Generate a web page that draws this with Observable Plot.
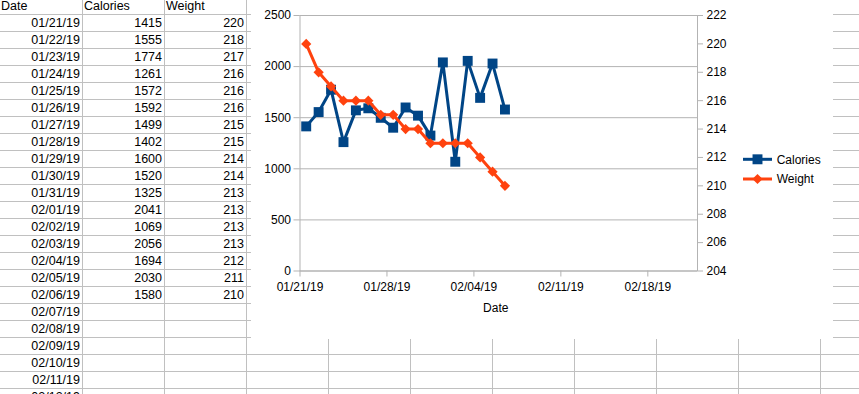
<!DOCTYPE html>
<html><head><meta charset="utf-8">
<script src="https://cdn.jsdelivr.net/npm/d3@7"></script>
<script src="https://cdn.jsdelivr.net/npm/@observablehq/plot@0.6"></script>
<style>
html,body{margin:0;padding:0;background:#fff;overflow:hidden;}
body{width:859px;height:394px;position:relative;font-family:"Liberation Sans",Arial,sans-serif;}
#sheet{position:absolute;left:0;top:0;}
#chart{position:absolute;left:251px;top:0;width:582px;height:339px;background:#fff;}
#chart svg{position:absolute;left:0;top:0;}
</style></head><body>
<div id="sheet"></div><div id="chart"></div>
<script>
// ---- data ----
const headers = ["Date", "Calories", "Weight"];
const dates = ["01/21/19","01/22/19","01/23/19","01/24/19","01/25/19","01/26/19","01/27/19","01/28/19","01/29/19","01/30/19","01/31/19","02/01/19","02/02/19","02/03/19","02/04/19","02/05/19","02/06/19"];
const calories = [1415,1555,1774,1261,1572,1592,1499,1402,1600,1520,1325,2041,1069,2056,1694,2030,1580];
const weight = [220,218,217,216,216,216,215,215,214,214,213,213,213,213,212,211,210];
const emptyDates = ["02/07/19","02/08/19","02/09/19","02/10/19","02/11/19","02/12/19"];
const xTicks = ["01/21/19","01/28/19","02/04/19","02/11/19","02/18/19"];
const xDomain = ["01/21/19","02/22/19"];
const calTicks = [0,500,1000,1500,2000,2500];
const weightTicks = [204,206,208,210,212,214,216,218,220,222];
const seriesNames = ["Calories","Weight"];
const colors = ["#004586","#ff420e"];

// ---- spreadsheet grid ----
const gridColor = "#c0c0c0";
const sheet = d3.select("#sheet").append("svg").attr("width",859).attr("height",394);
const rowH = 17, firstLine = 14, colW = 82;
for (let k = 0; k <= 22; k++) {
  sheet.append("line").attr("x1",0).attr("x2",859)
    .attr("y1",firstLine + rowH*k + 0.5).attr("y2",firstLine + rowH*k + 0.5)
    .attr("stroke",gridColor);
}
for (let c = 1; c <= 10; c++) {
  sheet.append("line").attr("y1",0).attr("y2",394)
    .attr("x1",colW*c + 0.5).attr("x2",colW*c + 0.5).attr("stroke",gridColor);
}
const tstyle = s => s.attr("font-family","Liberation Sans, Arial, sans-serif").attr("font-size","12.5px").attr("fill","#000");
headers.forEach((h,i)=>{
  sheet.append("text").attr("x", colW*i + (i===0?1:2)).attr("y", 10).text(h).call(tstyle);
});
const allDates = dates.concat(emptyDates);
allDates.forEach((d,i)=>{
  const y = firstLine + rowH*(i+1) - 4;
  sheet.append("text").attr("x",colW-2).attr("y",y).attr("text-anchor","end").text(d).call(tstyle);
  if (i < dates.length) {
    sheet.append("text").attr("x",colW*2-2).attr("y",y).attr("text-anchor","end").text(calories[i]).call(tstyle);
    sheet.append("text").attr("x",colW*3-2).attr("y",y).attr("text-anchor","end").text(weight[i]).call(tstyle);
  }
});

// ---- chart ----
const parse = d3.utcParse("%m/%d/%y");
const fmt = d3.utcFormat("%m/%d/%y");
const wMin = weightTicks[0], wMax = weightTicks[weightTicks.length-1];
const cMax = calTicks[calTicks.length-1];
const toY = w => (w - wMin) / (wMax - wMin) * cMax;
const fromY = v => String(Math.round(wMin + v / cMax * (wMax - wMin)));
const rows = dates.map((d,i)=>({date: d3.utcHour.offset(parse(d),12), cal: calories[i], w: weight[i]}));
const axisGray = "#b3b3b3";

const chart = Plot.plot({
  width: 582, height: 339,
  marginLeft: 48.5, marginRight: 136, marginTop: 15, marginBottom: 68.5,
  style: {fontFamily: "Liberation Sans, Arial, sans-serif", fontSize: "12px", color: "#000", background: "transparent", overflow: "visible"},
  x: {type: "utc", domain: xDomain.map(parse)},
  y: {domain: [calTicks[0], cMax]},
  marks: [
    Plot.gridY(calTicks, {stroke: axisGray, strokeOpacity: 1}),
    Plot.frame({stroke: axisGray}),
    Plot.axisY(calTicks, {anchor: "left", tickSize: 6, tickPadding: 3, stroke: axisGray, fill: "#000", tickFormat: d => String(d), label: null}),
    Plot.axisY(weightTicks.map(toY), {anchor: "right", tickSize: 5, tickPadding: 4, stroke: axisGray, fill: "#000", tickFormat: fromY, label: null}),
    Plot.axisX(xTicks.map(parse), {anchor: "bottom", tickSize: 6, tickPadding: 5, stroke: axisGray, fill: "#000", tickFormat: fmt, label: null}),
    Plot.text(["Date"], {frameAnchor: "bottom", dy: 40.7, dx: -3, fill: "#000"}),
    Plot.line(rows, {x: "date", y: "cal", stroke: colors[0], strokeWidth: 3}),
    Plot.dot(rows, {x: "date", y: "cal", symbol: "square", r: 5.6, fill: colors[0], stroke: null}),
    Plot.line(rows, {x: "date", y: d => toY(d.w), stroke: colors[1], strokeWidth: 3}),
    Plot.dot(rows, {x: "date", y: d => toY(d.w), symbol: "diamond2", r: 4.6, fill: colors[1], stroke: null})
  ]
});
document.getElementById("chart").appendChild(chart);

// ---- legend ----
const leg = d3.select("#chart").append("svg").attr("width",582).attr("height",339).style("pointer-events","none");
const legSyms = [d3.symbol(d3.symbolSquare, 5.6*5.6*Math.PI), d3.symbol(d3.symbolDiamond2, 4.6*4.6*Math.PI)];
const legY = [159.3, 179];
seriesNames.forEach((name,i)=>{
  const g = leg.append("g").attr("transform",`translate(0,${legY[i]})`);
  g.append("line").attr("x1",492).attr("x2",521).attr("y1",0).attr("y2",0).attr("stroke",colors[i]).attr("stroke-width",3);
  g.append("path").attr("d",legSyms[i]()).attr("transform","translate(506.5,0)").attr("fill",colors[i]);
  g.append("text").attr("x",525.7).attr("y",0).attr("dy","0.35em").text(name)
    .attr("font-family","Liberation Sans, Arial, sans-serif").attr("font-size","12px").attr("fill","#000");
});
</script>
</body></html>
